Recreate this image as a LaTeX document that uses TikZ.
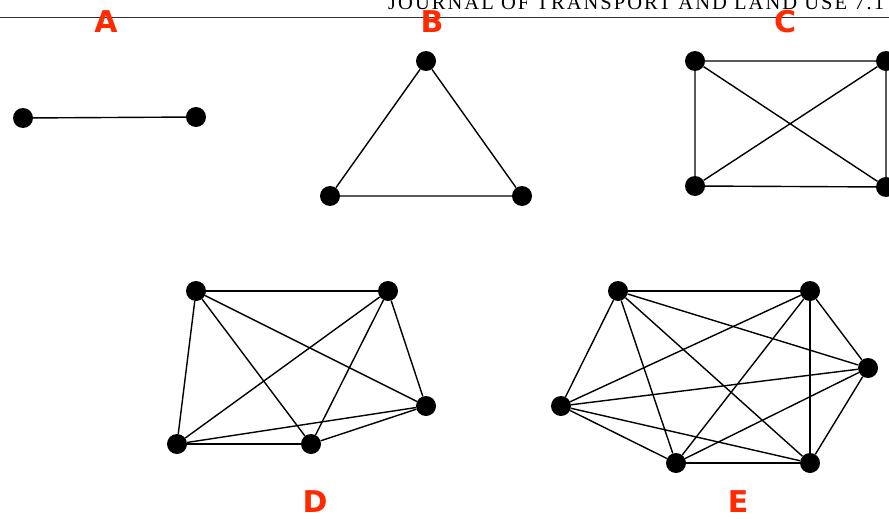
\documentclass[tikz,border=0pt]{standalone}
\usepackage{fontspec}
\setmainfont{Liberation Serif}
\newfontfamily\lblfont{DejaVu Sans}
\newfontfamily\hdrfont[LetterSpace=10]{Liberation Serif}
\definecolor{lblred}{HTML}{FF2A00}
\begin{document}
\begin{tikzpicture}[x=1pt,y=-1pt,
  vtx/.style={circle,fill=black,inner sep=0pt,minimum size=20pt},
  edge/.style={line width=1.4pt},
  lbl/.style={text=lblred,font=\lblfont\bfseries\fontsize{30}{30}\selectfont,inner sep=0pt}]
\useasboundingbox (0,0) rectangle (889,519);
\clip (0,0) rectangle (889,519);
% header
\node[anchor=base west,inner sep=0pt,font=\hdrfont\fontsize{20.5}{20.5}\selectfont] (hdr) at (388,9.5) {JOURNAL OF TRANSPORT AND LAND USE 7.1};
\draw[line width=1.2pt,black!80] (0,17.5) -- (889,17.5);
% labels
\node[lbl] (la) at (106,22) {A};
\node[lbl] (lb) at (432,22) {B};
\node[lbl] (lc) at (785,22) {C};
\node[lbl] (ld) at (315,502) {D};
\node[lbl] (le) at (738,502) {E};
% A
\node[vtx] (a1) at (23,118) {};
\node[vtx] (a2) at (196,117) {};
\draw[edge] (a1) -- (a2);
% B
\node[vtx] (b1) at (426,61) {};
\node[vtx] (b2) at (330,196) {};
\node[vtx] (b3) at (522,196) {};
\draw[edge] (b1) -- (b2) -- (b3) -- (b1);
% C
\node[vtx] (c1) at (695,61) {};
\node[vtx] (c2) at (886,61) {};
\node[vtx] (c3) at (695,186) {};
\node[vtx] (c4) at (886,187) {};
\draw[edge] (c1) -- (c2) (c3) -- (c4) (c1) -- (c3) (c2) -- (c4) (c1) -- (c4) (c2) -- (c3);
% D
\node[vtx] (d1) at (196,291) {};
\node[vtx] (d2) at (388,291) {};
\node[vtx] (d3) at (426,406) {};
\node[vtx] (d4) at (177,444) {};
\node[vtx] (d5) at (311,444) {};
\foreach \u/\v in {d1/d2,d1/d3,d1/d4,d1/d5,d2/d3,d2/d4,d2/d5,d3/d4,d3/d5,d4/d5}
  \draw[edge] (\u) -- (\v);
% E
\node[vtx] (e1) at (618,291) {};
\node[vtx] (e2) at (810,291) {};
\node[vtx] (e3) at (868,368) {};
\node[vtx] (e4) at (561,406) {};
\node[vtx] (e5) at (676,463) {};
\node[vtx] (e6) at (810,463) {};
\foreach \u/\v in {e1/e2,e1/e3,e1/e4,e1/e5,e1/e6,e2/e3,e2/e4,e2/e5,e2/e6,e3/e4,e3/e5,e3/e6,e4/e5,e4/e6,e5/e6}
  \draw[edge] (\u) -- (\v);
\end{tikzpicture}
\end{document}
